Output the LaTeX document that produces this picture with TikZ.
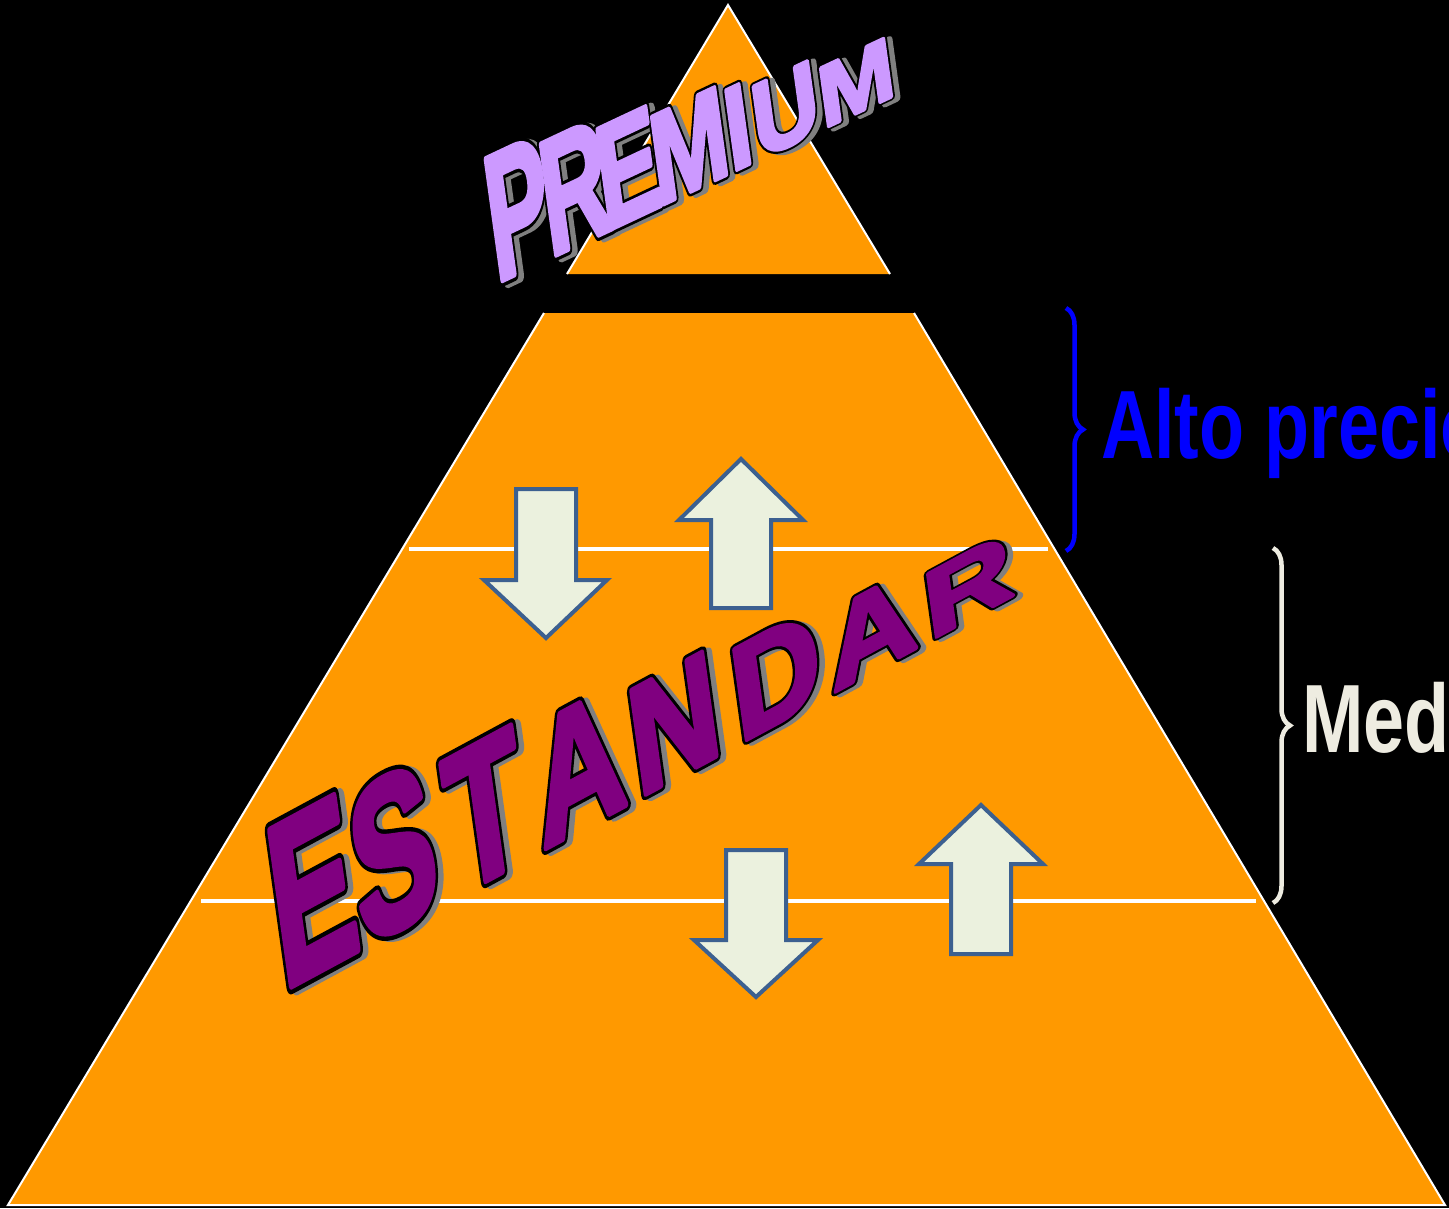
\documentclass[tikz,border=0pt]{standalone}
\usepackage{fontspec}
\usepackage{graphicx}
\usetikzlibrary{decorations.pathreplacing}
\newfontfamily\lsans{Liberation Sans}
\newfontfamily\wafill[FakeBold=3.5]{Liberation Sans}
\newfontfamily\waline[FakeBold=7.5]{Liberation Sans}
\definecolor{pyorange}{HTML}{FF9900}
\definecolor{premlav}{HTML}{CC99FF}
\definecolor{estpurple}{HTML}{800080}
\definecolor{shadowgray}{HTML}{808080}
\definecolor{braceblue}{HTML}{0000FF}
\definecolor{bracewhite}{HTML}{EEECE1}
\definecolor{arrowline}{HTML}{3C6090}
\definecolor{arrowfill}{HTML}{EBF1DE}
\tikzset{
  wl/.style={anchor=base west, inner sep=0pt, outer sep=0pt, transform shape},
  wlfill/.style={wl, font=\wafill\bfseries\fontsize{100}{100}\selectfont},
  wlline/.style={wl, font=\waline\bfseries\fontsize{100}{100}\selectfont},
  edgeline/.style={draw=white, line width=2pt},
  bandline/.style={draw=white, line width=4pt},
  blockarrow/.style={draw=arrowline, fill=arrowfill, line width=4pt, line join=miter},
  bracket/.style={decorate, decoration={brace, amplitude=17pt}, line width=4.5pt},
  sidelabel/.style={anchor=base west, inner sep=0pt, outer sep=0pt,
             font=\lsans\bfseries\fontsize{97}{97}\selectfont, xscale=0.76},
}
% perspective words: each letter stretched to its own height
\newcommand\estandarword{\scalebox{1}[2.42]{E}\scalebox{1}[2.26]{S}\kern12pt\scalebox{1}[2.05]{T}\kern10pt\scalebox{1}[1.84]{A}\kern7pt\scalebox{1}[1.62]{N}\kern12pt\scalebox{1}[1.41]{D}\kern6pt\scalebox{1}[1.20]{A}\kern8pt\scalebox{1}[0.99]{R}}
\newcommand\premiumword{\scalebox{1}[1.87]{P}\kern-7pt\scalebox{1}[1.71]{R}\kern-11pt\scalebox{1}[1.54]{E}\kern-8pt\scalebox{1}[1.35]{M}\kern-2pt\scalebox{1}[1.23]{I}\kern2pt\scalebox{1}[1.10]{U}\scalebox{1}[0.91]{M}}
% #1 x, #2 baseline y, #3 em width factor, #4 yslant, #5 xslant, #6 colour, #7 word, #8 name
\newcommand\wordart[8]{%
  \begin{scope}[shift={(#1,#2)}, yslant=#4, xslant=#5, line join=round]
    \node[wlline, text=shadowgray, xscale=#3] at (5,4) {#7};
    \node[wlline, text=black, xscale=#3] at (0,0) {#7};
    \node[wlfill, text=#6, xscale=#3] (#8) at (0,0) {#7};
  \end{scope}}
\begin{document}
\begin{tikzpicture}[x=1pt, y=-1pt]
  \useasboundingbox (0,0) rectangle (1449,1208);
  \fill[black] (0,0) rectangle (1449,1208);
  \clip (0,0) rectangle (1449,1208);

  % pyramid
  \fill[pyorange] (728,5) -- (890,274) -- (567,274) -- cycle;
  \draw[edgeline] (567,274) -- (728,5) -- (890,274);
  \fill[pyorange] (544,313) -- (914,313) -- (1445,1205) -- (8,1205) -- cycle;
  \draw[edgeline] (544,313) -- (8,1205) -- (1445,1205) -- (914,313);

  % band lines
  \draw[bandline] (409,549) -- (1048,549);
  \draw[bandline] (201,901) -- (1256,901);

  % arrows
  \draw[blockarrow] (516,489) -- (576,489) -- (576,580) -- (607,580) -- (546,638) -- (484,580) -- (516,580) -- cycle;
  \draw[blockarrow] (711,608) -- (771,608) -- (771,520) -- (803,520) -- (741,459) -- (679,520) -- (711,520) -- cycle;
  \draw[blockarrow] (726,850) -- (786,850) -- (786,940) -- (818,940) -- (756,997) -- (694,940) -- (726,940) -- cycle;
  \draw[blockarrow] (951,954) -- (1011,954) -- (1011,864) -- (1043,864) -- (981,805) -- (919,864) -- (951,864) -- cycle;

  % braces and labels
  \draw[bracket, draw=braceblue] (1066,308) -- (1066,551);
  \draw[bracket, draw=bracewhite] (1273,548) -- (1273,903);
  \node[sidelabel, text=braceblue] (alto) at (1101,458) {Alto precio};
  \node[sidelabel, text=bracewhite] (med) at (1302,752) {Med};

  % word art
  \wordart{496}{283}{0.90}{0.47}{-0.13}{premlav}{\premiumword}{premium}
  \wordart{283}{990}{1.20}{0.54}{-0.13}{estpurple}{\estandarword}{estandar}
\end{tikzpicture}
\end{document}
